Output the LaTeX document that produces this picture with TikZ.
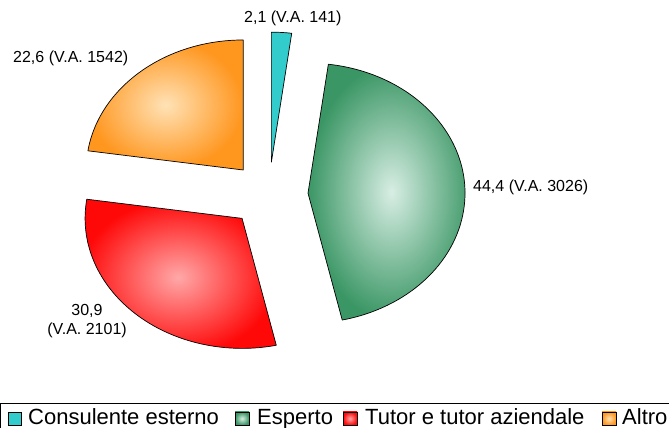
\documentclass[tikz,border=0pt]{standalone}
\usepackage{fontspec}
\setmainfont{Liberation Sans}
\definecolor{cyanS}{HTML}{33CCCC}
\definecolor{greenE}{HTML}{3A9664}
\definecolor{greenC}{HTML}{D8EEE4}
\definecolor{redE}{HTML}{FF0808}
\definecolor{redC}{HTML}{FFA8A8}
\definecolor{orE}{HTML}{FF961E}
\definecolor{orC}{HTML}{FFE2B6}
\begin{document}
\begin{tikzpicture}[x=1pt,y=1pt,
  slice/.style={draw=black, line width=0.7pt, line join=round},
  lbl/.style={font=\fontsize{16}{19}\selectfont, inner sep=0pt, anchor=base west},
  leg/.style={font=\fontsize{22}{26}\selectfont, inner sep=0pt, anchor=base west},
  legsq/.style={draw=black, line width=0.6pt}]
\clip (0,0) rectangle (669,428);
\fill[white] (0,0) rectangle (669,428);
\coordinate (C) at (268.8,233.4);
% apexes of the exploded slices
\path (C) ++(86.27:39.25 and 32.5) coordinate (Ac);
\path (C) ++(2.57:39.25 and 32.5) coordinate (Ag);
\path (C) ++(-132.94:39.25 and 32.5) coordinate (Ar);
\path (C) ++(130.76:39.25 and 32.5) coordinate (Ao);
% slices
\filldraw[slice, fill=cyanS] (Ac) -- ++(90:157 and 130)
  arc[start angle=90, end angle=82.55, x radius=157, y radius=130] -- cycle;
\shadedraw[slice, inner color=greenC, outer color=greenE] (Ag) -- ++(82.55:157 and 130)
  arc[start angle=82.55, end angle=-77.41, x radius=157, y radius=130] -- cycle;
\shadedraw[slice, inner color=redC, outer color=redE] (Ar) -- ++(-77.41:157 and 130)
  arc[start angle=-77.41, end angle=-188.48, x radius=157, y radius=130] -- cycle;
\shadedraw[slice, inner color=orC, outer color=orE] (Ao) -- ++(171.52:157 and 130)
  arc[start angle=171.52, end angle=90, x radius=157, y radius=130] -- cycle;
% labels
\node[lbl] (lc) at (244,405) {2,1 (V.A. 141)};
\node[lbl] (lg) at (473,236) {44,4 (V.A. 3026)};
\node[lbl] (lo) at (13,365) {22,6 (V.A. 1542)};
\node[lbl, anchor=base, align=center] (lr) at (87,93) {30,9\\(V.A. 2101)};
% legend
\draw[line width=0.8pt] (0.8,-10) rectangle (700,25);
\filldraw[legsq, fill=cyanS] (8,3) rectangle (21,16);
\shadedraw[legsq, inner color=greenC, outer color=greenE] (235,3) rectangle (249,16);
\shadedraw[legsq, inner color=redC, outer color=redE] (343,3) rectangle (357,16);
\shadedraw[legsq, inner color=orC, outer color=orE] (602,3) rectangle (616,16);
\node[leg] (t1) at (28,3) {Consulente esterno};
\node[leg] (t2) at (257,3) {Esperto};
\node[leg] (t3) at (365,3) {Tutor e tutor aziendale};
\node[leg] (t4) at (622,3) {Altro};
\end{tikzpicture}
\end{document}
